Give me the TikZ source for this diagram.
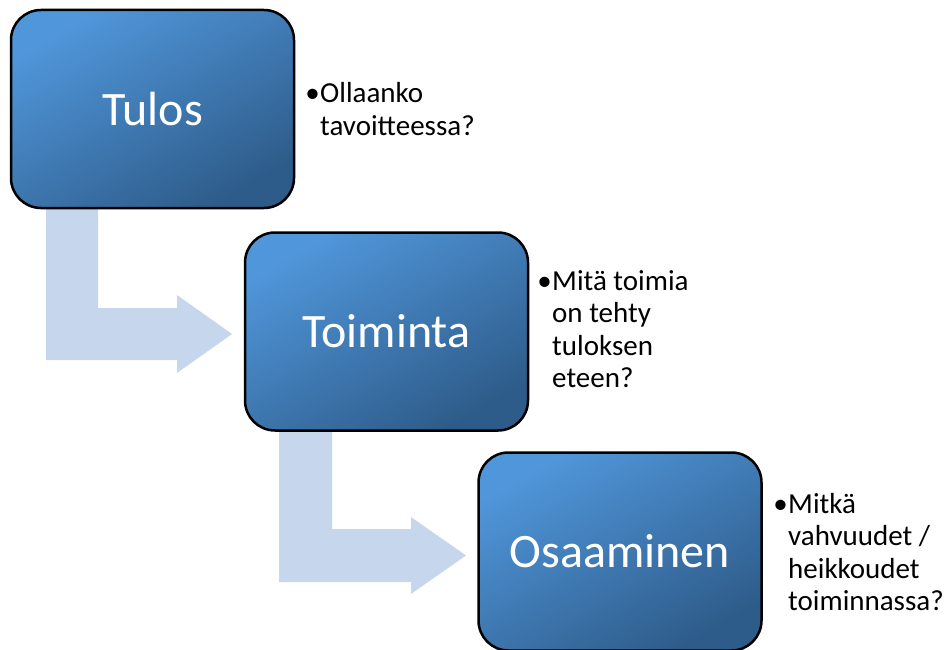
\documentclass[tikz,border=0pt]{standalone}
\usepackage{fontspec}
\setmainfont{Carlito}
\definecolor{boxlight}{RGB}{80,150,218}
\definecolor{boxdark}{RGB}{46,92,138}
\definecolor{flowfill}{RGB}{198,214,236}
\begin{document}
\begin{tikzpicture}[x=1pt,y=-1pt,
  stagebox/.style={rounded corners=30pt, draw=black, line width=2.5pt,
    top color=boxlight, bottom color=boxdark, shading angle=30,
    minimum width=283pt, minimum height=198pt, inner sep=0pt,
    text=white, font=\fontsize{48}{56}\selectfont},
  flowarrow/.style={fill=flowfill, draw=none},
  notebody/.style={anchor=base west, inner sep=0pt, text=black,
    font=\fontsize{29}{32.5}\selectfont},
  notebullet/.style={anchor=base east, inner sep=0pt, text=black,
    font=\fontsize{29}{32.5}\selectfont}]
\useasboundingbox (0,0) rectangle (945,650);

% bent arrows between the stages (drawn first, behind the boxes)
\fill[flowarrow] (46,200) -- (98,200) -- (98,308) -- (177,308) -- (177,295)
  -- (232,334) -- (177,373) -- (177,360) -- (46,360) -- cycle;
\fill[flowarrow] (279,422) -- (332,422) -- (332,529) -- (411,529) -- (411,517)
  -- (466,555.5) -- (411,594) -- (411,582) -- (279,582) -- cycle;

% stage boxes
\node[stagebox] (tulos)    at (152.5,109)   {Tulos};
\node[stagebox] (toiminta) at (386.5,331.5) {Toiminta};
\node[stagebox] (osaam)    at (620,551.5)   {Osaaminen};

% notes beside each stage
\node[notebullet] (b1) at (320,103) {•\hspace{1pt}};
\node[notebody] (n1) at (320,103) {\begin{tabular}[t]{@{}l@{}}Ollaanko\\tavoitteessa?\end{tabular}};

\node[notebullet] (b2) at (552,290) {•\hspace{1pt}};
\node[notebody] (n2) at (552,290) {\begin{tabular}[t]{@{}l@{}}Mitä toimia\\on tehty\\tuloksen\\eteen?\end{tabular}};

\node[notebullet] (b3) at (788,513) {•\hspace{1pt}};
\node[notebody] (n3) at (788,513) {\begin{tabular}[t]{@{}l@{}}Mitkä\\vahvuudet /\\heikkoudet\\toiminnassa?\end{tabular}};
\end{tikzpicture}
\end{document}
